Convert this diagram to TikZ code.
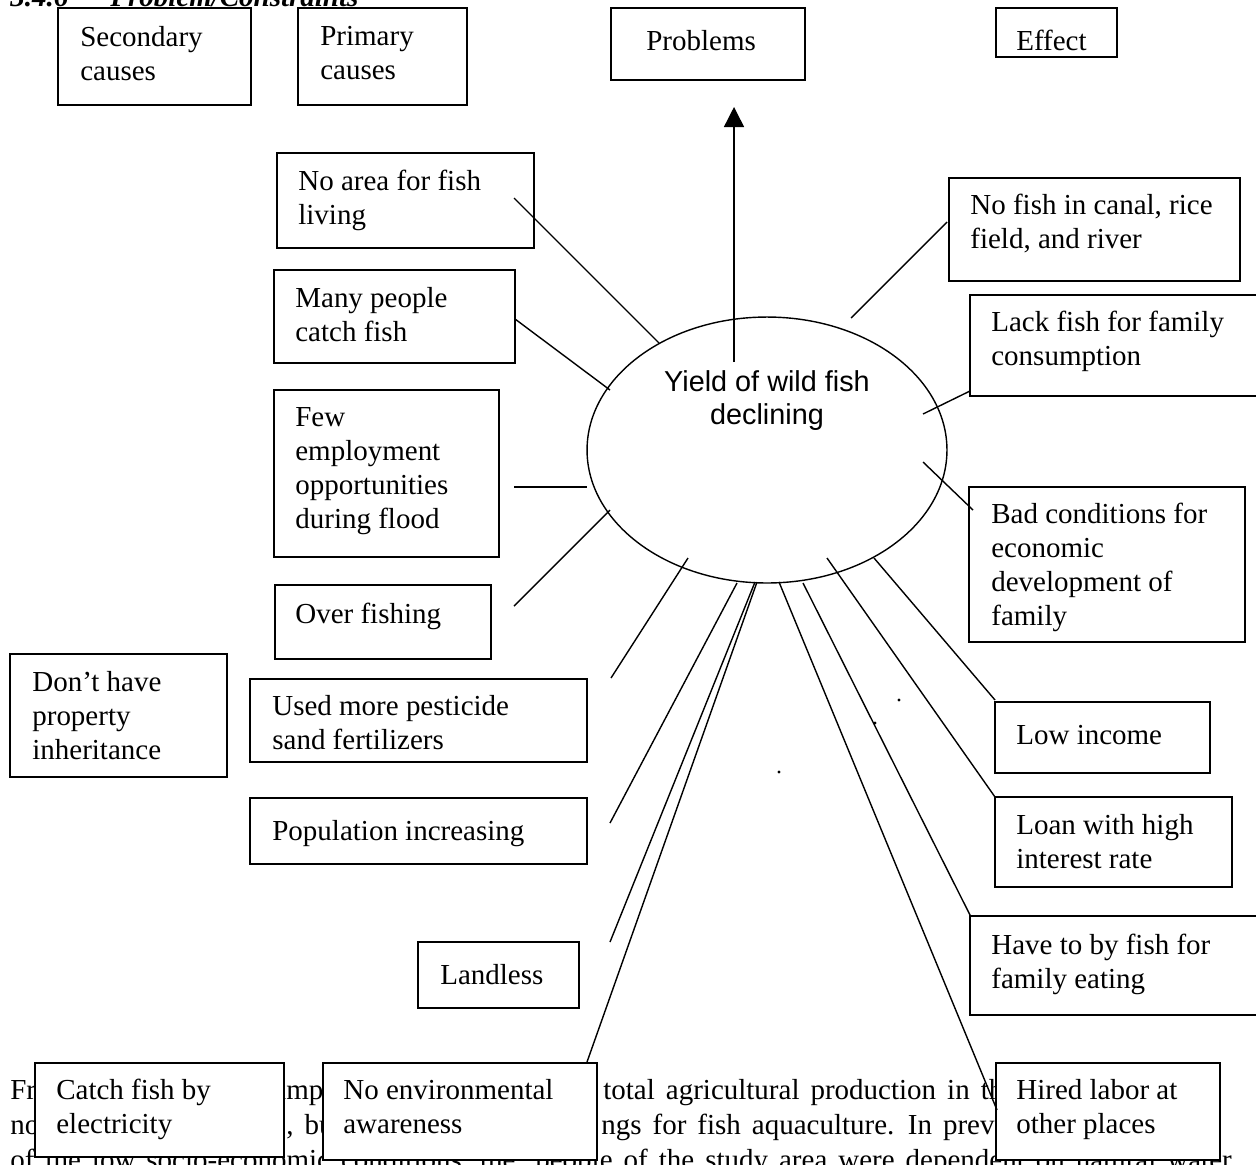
\documentclass[tikz,border=0pt]{standalone}
\usepackage{fontspec}
\setmainfont{Liberation Serif}
\newfontfamily\arialf{Liberation Sans}
\usetikzlibrary{fit,arrows.meta,shapes.geometric}
\newcommand\boxfont{\fontsize{16.5}{19.3}\selectfont}
\newcommand\ellfont{\arialf\fontsize{16.4}{18.7}\selectfont}
\newcommand\bodyfont{\fontsize{16.5}{19.3}\selectfont\spaceskip=0.38em plus 0.1em\relax}
\newcommand\headfont{\fontsize{16.5}{19.3}\selectfont\bfseries\itshape}
\begin{document}
\begin{tikzpicture}[x=0.02cm,y=-0.02cm,
  cbox/.style={draw, line width=0.8pt, fill=white, inner sep=0pt},
  txt/.style={anchor=north west, inner sep=0pt, align=left, font=\boxfont, yshift=0.40cm, execute at begin node=\strut},
  body/.style={anchor=base west, inner sep=0pt, font=\bodyfont},
  head/.style={anchor=base west, inner sep=0pt, font=\headfont},
  link/.style={line width=0.8pt},
  dotmark/.style={fill=black}]
\useasboundingbox (0,0) rectangle (1256,1164);

% heading (cut at top)
\node[head] (h1) at (10,6) {3.4.6};
\node[head] (h2) at (110,6) {Problem/Constraints};

% body text partly hidden behind boxes
\node[body] (b1a) at (10,1099) {From};
\node[body] (b1b) at (278,1099) {important};
\node[body] (b1c) at (603,1099) {total agricultural production in the};
\node[body] (b2a) at (10,1134) {not};
\node[body] (b2b) at (286,1134) {, but};
\node[body] (b2c) at (601,1134) {ngs for fish aquaculture. In previous};
\node[body] (b3a) at (10,1169) {of the low socio-economic conditions, the};
\node[body] (b3b) at (535,1169) {people of the study area were dependent on natural water};

% boxes
\node[cbox, fit={(58,8)(251,105)}] (sec) {};
\node[txt] (sec-t) at (80,46) {Secondary\\causes};
\node[cbox, fit={(298,8)(467,105)}] (pri) {};
\node[txt] (pri-t) at (320,46) {Primary\\causes};
\node[cbox, fit={(611,8)(805,80)}] (prob) {};
\node[txt] (prob-t) at (646,46) {Problems};
\node[cbox, fit={(996,8)(1117,57)}] (eff) {};
\node[txt] (eff-t) at (1016,46) {Effect};

\node[cbox, fit={(277,153)(534,248)}] (area) {};
\node[txt] (area-t) at (298,190) {No area for fish\\living};
\node[cbox, fit={(274,270)(515,363)}] (many) {};
\node[txt] (many-t) at (295,307) {Many people\\catch fish};
\node[cbox, fit={(274,390)(499,557)}] (few) {};
\node[txt] (few-t) at (295,427) {Few\\employment\\opportunities\\during flood};
\node[cbox, fit={(275,585)(491,659)}] (over) {};
\node[txt] (over-t) at (295,619) {Over fishing};
\node[cbox, fit={(10,654)(227,777)}] (prop) {};
\node[txt] (prop-t) at (32,691) {Don’t have\\property\\inheritance};
\node[cbox, fit={(250,679)(587,762)}] (pest) {};
\node[txt] (pest-t) at (272,715) {Used more pesticide\\sand fertilizers};
\node[cbox, fit={(250,798)(587,864)}] (pop) {};
\node[txt] (pop-t) at (272,836) {Population increasing};
\node[cbox, fit={(418,942)(579,1008)}] (land) {};
\node[txt] (land-t) at (440,980) {Landless};
\node[cbox, fit={(35,1063)(284,1157)}] (elec) {};
\node[txt] (elec-t) at (56,1099) {Catch fish by\\electricity};
\node[cbox, fit={(323,1063)(597,1160)}] (env) {};
\node[txt] (env-t) at (343,1099) {No environmental\\awareness};

\node[cbox, fit={(949,178)(1240,281)}] (canal) {};
\node[txt] (canal-t) at (970,214) {No fish in canal, rice\\field, and river};
\node[cbox, fit={(970,295)(1270,396)}] (lack) {};
\node[txt] (lack-t) at (991,331) {Lack fish for family\\consumption};
\node[cbox, fit={(969,487)(1245,642)}] (bad) {};
\node[txt] (bad-t) at (991,523) {Bad conditions for\\economic\\development of\\family};
\node[cbox, fit={(995,702)(1210,773)}] (low) {};
\node[txt] (low-t) at (1016,740) {Low income};
\node[cbox, fit={(995,797)(1232,887)}] (loan) {};
\node[txt] (loan-t) at (1016,834) {Loan with high\\interest rate};
\node[cbox, fit={(970,916)(1270,1015)}] (buy) {};
\node[txt] (buy-t) at (991,954) {Have to by fish for\\family eating};
\node[cbox, fit={(996,1063)(1220,1160)}] (hired) {};
\node[txt] (hired-t) at (1016,1099) {Hired labor at\\other places};

% central ellipse
\node[draw, ellipse, line width=0.8pt, minimum width=7.2cm, minimum height=5.32cm, inner sep=0pt] (core) at (767,450) {};
\node[anchor=north, inner sep=0pt, align=center, font=\ellfont, yshift=0.40cm, execute at begin node=\strut] (core-t) at (767,390) {Yield of wild fish\\declining};

% stray dots
\fill[dotmark] (899,700) circle (0.9pt);
\fill[dotmark] (875,723) circle (0.9pt);
\fill[dotmark] (779,772) circle (0.9pt);

% connector end points
\coordinate (arr-a) at (734,362);  \coordinate (arr-b) at (734,107);
\coordinate (area-a) at (514,198); \coordinate (area-b) at (659,343);
\coordinate (many-a) at (515,319); \coordinate (many-b) at (610,390);
\coordinate (few-a) at (514,487);  \coordinate (few-b) at (587,487);
\coordinate (over-a) at (514,606); \coordinate (over-b) at (610,510);
\coordinate (pest-a) at (611,678); \coordinate (pest-b) at (688,558);
\coordinate (pop-a) at (610,823);  \coordinate (pop-b) at (737,583);
\coordinate (land-a) at (610,942); \coordinate (land-b) at (755,582);
\coordinate (env-a) at (587,1062); \coordinate (env-b) at (757,582);
\coordinate (canal-a) at (947,222); \coordinate (canal-b) at (851,318);
\coordinate (lack-a) at (970,391); \coordinate (lack-b) at (923,414);
\coordinate (bad-a) at (973,510);  \coordinate (bad-b) at (923,462);
\coordinate (low-a) at (995,700);  \coordinate (low-b) at (874,558);
\coordinate (loan-a) at (995,797); \coordinate (loan-b) at (827,558);
\coordinate (buy-a) at (971,917);  \coordinate (buy-b) at (803,583);
\coordinate (hired-a) at (997,1110); \coordinate (hired-b) at (779,582);

\draw[link, -{Triangle[width=0.4cm,length=0.4cm]}] (arr-a) -- (arr-b);
\foreach \n in {area,many,few,over,pest,pop,land,env,canal,lack,bad,low,loan,buy,hired}
  \draw[link] (\n-a) -- (\n-b);
\end{tikzpicture}
\end{document}
